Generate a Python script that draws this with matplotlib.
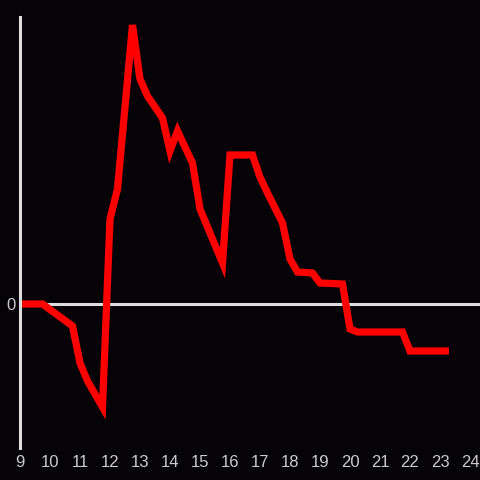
import matplotlib
matplotlib.use("Agg")
import matplotlib.pyplot as plt

# hours of the day and the value at each reading
hours = [9, 9.75, 10.75, 11.0, 11.25, 11.75, 12.0, 12.25, 12.75, 13.0, 13.25,
         13.75, 14.0, 14.25, 14.75, 15.0, 15.75, 16.0, 16.75, 17.0, 17.25,
         17.75, 18.0, 18.25, 18.75, 19.0, 19.75, 20.0, 20.25, 21.75, 22.0, 23.3]
values = [0, 0, -2.2, -5.9, -7.7, -10.3, 8.5, 11.5, 27.9, 22.5, 20.8,
          18.6, 15.3, 17.3, 14.1, 9.5, 4.1, 14.9, 14.9, 12.7, 11.1,
          8.1, 4.5, 3.2, 3.1, 2.1, 2.0, -2.5, -2.8, -2.8, -4.7, -4.7]
xticks = list(range(9, 25))

bg = "#050307"
fig = plt.figure(figsize=(4.8, 4.8), dpi=100, facecolor=bg)
ax = fig.add_axes([20 / 480, 32 / 480, 460 / 480, 431 / 480], facecolor=bg)

ax.axhline(0, color="#dddddd", lw=2.2, zorder=1)
ax.plot(hours, values, color="#ff0000", lw=5.2, solid_joinstyle="miter",
        solid_capstyle="butt", zorder=2)

ax.set_xlim(9, 9 + 460 / 30)
ax.set_ylim(-14.4, 28.7)

for s in ["top", "right", "bottom"]:
    ax.spines[s].set_visible(False)
ax.spines["left"].set_color("#dddddd")
ax.spines["left"].set_linewidth(2.2)

ax.set_xticks(xticks)
ax.set_xticklabels([str(h) for h in xticks])
ax.set_yticks([0])
ax.set_yticklabels(["0"])
ax.tick_params(length=0, colors="#cccccc", labelsize=12)
ax.tick_params(axis="x", pad=5)
ax.tick_params(axis="y", pad=3)
for lab in ax.get_xticklabels() + ax.get_yticklabels():
    lab.set_family("Liberation Sans")

fig.savefig("out.png", dpi=100, facecolor=bg)
